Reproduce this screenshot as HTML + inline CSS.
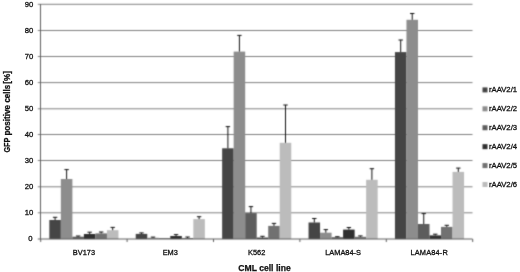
<!DOCTYPE html>
<html><head><meta charset="utf-8"><style>
html,body{margin:0;padding:0;background:#fff;}
body{width:520px;height:272px;overflow:hidden;}
svg{display:block;filter:grayscale(1);}
.t{font-family:"Liberation Sans",sans-serif;font-size:7.4px;fill:#111;stroke:#111;stroke-width:0.3px;}
.b{font-family:"Liberation Sans",sans-serif;font-size:8.6px;font-weight:bold;fill:#111;stroke:#111;stroke-width:0.25px;}
</style></head><body>
<svg width="520" height="272" viewBox="0 0 520 272">
<defs><filter id="bl" x="0" y="0" width="520" height="272" filterUnits="userSpaceOnUse" color-interpolation-filters="sRGB"><feConvolveMatrix order="3" kernelMatrix="0.02768 0.11101 0.02768 0.11101 0.44521 0.11101 0.02768 0.11101 0.02768" edgeMode="duplicate" preserveAlpha="true"/></filter></defs>
<g filter="url(#bl)">
<rect width="520" height="272" fill="#fff"/>
<line x1="37.8" y1="4.3" x2="472.5" y2="4.3" stroke="#808080" stroke-width="1"/>
<line x1="37.8" y1="30.5" x2="472.5" y2="30.5" stroke="#808080" stroke-width="1"/>
<line x1="37.8" y1="56.5" x2="472.5" y2="56.5" stroke="#808080" stroke-width="1"/>
<line x1="37.8" y1="82.6" x2="472.5" y2="82.6" stroke="#808080" stroke-width="1"/>
<line x1="37.8" y1="108.8" x2="472.5" y2="108.8" stroke="#808080" stroke-width="1"/>
<line x1="37.8" y1="134.5" x2="472.5" y2="134.5" stroke="#808080" stroke-width="1"/>
<line x1="37.8" y1="160.5" x2="472.5" y2="160.5" stroke="#808080" stroke-width="1"/>
<line x1="37.8" y1="186.8" x2="472.5" y2="186.8" stroke="#808080" stroke-width="1"/>
<line x1="37.8" y1="212.8" x2="472.5" y2="212.8" stroke="#808080" stroke-width="1"/>
<rect x="49.34" y="220.00" width="11.52" height="19.00" fill="#454545"/>
<rect x="60.86" y="179.00" width="11.52" height="60.00" fill="#8d8d8d"/>
<rect x="72.38" y="236.70" width="11.52" height="2.30" fill="#5d5d5d"/>
<rect x="83.90" y="234.00" width="11.52" height="5.00" fill="#2f2f2f"/>
<rect x="95.42" y="233.40" width="11.52" height="5.60" fill="#717171"/>
<rect x="106.94" y="230.20" width="11.52" height="8.80" fill="#bcbcbc"/>
<rect x="135.74" y="233.90" width="11.52" height="5.10" fill="#454545"/>
<rect x="147.26" y="237.80" width="11.52" height="1.20" fill="#8d8d8d"/>
<rect x="158.78" y="238.20" width="11.52" height="0.80" fill="#5d5d5d"/>
<rect x="170.30" y="236.00" width="11.52" height="3.00" fill="#2f2f2f"/>
<rect x="181.82" y="238.00" width="11.52" height="1.00" fill="#717171"/>
<rect x="193.34" y="219.10" width="11.52" height="19.90" fill="#bcbcbc"/>
<rect x="222.14" y="148.30" width="11.52" height="90.70" fill="#454545"/>
<rect x="233.66" y="51.60" width="11.52" height="187.40" fill="#8d8d8d"/>
<rect x="245.18" y="213.10" width="11.52" height="25.90" fill="#5d5d5d"/>
<rect x="256.70" y="237.60" width="11.52" height="1.40" fill="#2f2f2f"/>
<rect x="268.22" y="225.90" width="11.52" height="13.10" fill="#717171"/>
<rect x="279.74" y="142.80" width="11.52" height="96.20" fill="#bcbcbc"/>
<rect x="308.54" y="222.50" width="11.52" height="16.50" fill="#454545"/>
<rect x="320.06" y="232.70" width="11.52" height="6.30" fill="#8d8d8d"/>
<rect x="331.58" y="237.20" width="11.52" height="1.80" fill="#5d5d5d"/>
<rect x="343.10" y="229.60" width="11.52" height="9.40" fill="#2f2f2f"/>
<rect x="354.62" y="236.80" width="11.52" height="2.20" fill="#717171"/>
<rect x="366.14" y="179.80" width="11.52" height="59.20" fill="#bcbcbc"/>
<rect x="394.94" y="52.10" width="11.52" height="186.90" fill="#454545"/>
<rect x="406.46" y="19.80" width="11.52" height="219.20" fill="#8d8d8d"/>
<rect x="417.98" y="224.00" width="11.52" height="15.00" fill="#5d5d5d"/>
<rect x="429.50" y="235.40" width="11.52" height="3.60" fill="#2f2f2f"/>
<rect x="441.02" y="226.90" width="11.52" height="12.10" fill="#717171"/>
<rect x="452.54" y="171.90" width="11.52" height="67.10" fill="#bcbcbc"/>
<line x1="55.10" y1="220.00" x2="55.10" y2="217.30" stroke="#111" stroke-width="1"/>
<line x1="52.90" y1="217.30" x2="57.30" y2="217.30" stroke="#111" stroke-width="1"/>
<line x1="66.62" y1="179.00" x2="66.62" y2="169.60" stroke="#111" stroke-width="1"/>
<line x1="64.42" y1="169.60" x2="68.82" y2="169.60" stroke="#111" stroke-width="1"/>
<line x1="78.14" y1="236.70" x2="78.14" y2="236.00" stroke="#111" stroke-width="1"/>
<line x1="75.94" y1="236.00" x2="80.34" y2="236.00" stroke="#111" stroke-width="1"/>
<line x1="89.66" y1="234.00" x2="89.66" y2="232.20" stroke="#111" stroke-width="1"/>
<line x1="87.46" y1="232.20" x2="91.86" y2="232.20" stroke="#111" stroke-width="1"/>
<line x1="101.18" y1="233.40" x2="101.18" y2="232.00" stroke="#111" stroke-width="1"/>
<line x1="98.98" y1="232.00" x2="103.38" y2="232.00" stroke="#111" stroke-width="1"/>
<line x1="112.70" y1="230.20" x2="112.70" y2="227.40" stroke="#111" stroke-width="1"/>
<line x1="110.50" y1="227.40" x2="114.90" y2="227.40" stroke="#111" stroke-width="1"/>
<line x1="141.50" y1="233.90" x2="141.50" y2="232.90" stroke="#111" stroke-width="1"/>
<line x1="139.30" y1="232.90" x2="143.70" y2="232.90" stroke="#111" stroke-width="1"/>
<line x1="153.02" y1="237.80" x2="153.02" y2="237.10" stroke="#111" stroke-width="1"/>
<line x1="150.82" y1="237.10" x2="155.22" y2="237.10" stroke="#111" stroke-width="1"/>
<line x1="176.06" y1="236.00" x2="176.06" y2="234.60" stroke="#111" stroke-width="1"/>
<line x1="173.86" y1="234.60" x2="178.26" y2="234.60" stroke="#111" stroke-width="1"/>
<line x1="187.58" y1="238.00" x2="187.58" y2="237.00" stroke="#111" stroke-width="1"/>
<line x1="185.38" y1="237.00" x2="189.78" y2="237.00" stroke="#111" stroke-width="1"/>
<line x1="199.10" y1="219.10" x2="199.10" y2="216.70" stroke="#111" stroke-width="1"/>
<line x1="196.90" y1="216.70" x2="201.30" y2="216.70" stroke="#111" stroke-width="1"/>
<line x1="227.90" y1="148.30" x2="227.90" y2="126.60" stroke="#111" stroke-width="1"/>
<line x1="225.70" y1="126.60" x2="230.10" y2="126.60" stroke="#111" stroke-width="1"/>
<line x1="239.42" y1="51.60" x2="239.42" y2="35.40" stroke="#111" stroke-width="1"/>
<line x1="237.22" y1="35.40" x2="241.62" y2="35.40" stroke="#111" stroke-width="1"/>
<line x1="250.94" y1="213.10" x2="250.94" y2="206.60" stroke="#111" stroke-width="1"/>
<line x1="248.74" y1="206.60" x2="253.14" y2="206.60" stroke="#111" stroke-width="1"/>
<line x1="262.46" y1="237.60" x2="262.46" y2="236.30" stroke="#111" stroke-width="1"/>
<line x1="260.26" y1="236.30" x2="264.66" y2="236.30" stroke="#111" stroke-width="1"/>
<line x1="273.98" y1="225.90" x2="273.98" y2="223.40" stroke="#111" stroke-width="1"/>
<line x1="271.78" y1="223.40" x2="276.18" y2="223.40" stroke="#111" stroke-width="1"/>
<line x1="285.50" y1="142.80" x2="285.50" y2="105.00" stroke="#111" stroke-width="1"/>
<line x1="283.30" y1="105.00" x2="287.70" y2="105.00" stroke="#111" stroke-width="1"/>
<line x1="314.30" y1="222.50" x2="314.30" y2="218.50" stroke="#111" stroke-width="1"/>
<line x1="312.10" y1="218.50" x2="316.50" y2="218.50" stroke="#111" stroke-width="1"/>
<line x1="325.82" y1="232.70" x2="325.82" y2="229.60" stroke="#111" stroke-width="1"/>
<line x1="323.62" y1="229.60" x2="328.02" y2="229.60" stroke="#111" stroke-width="1"/>
<line x1="337.34" y1="237.20" x2="337.34" y2="236.70" stroke="#111" stroke-width="1"/>
<line x1="335.14" y1="236.70" x2="339.54" y2="236.70" stroke="#111" stroke-width="1"/>
<line x1="348.86" y1="229.60" x2="348.86" y2="227.50" stroke="#111" stroke-width="1"/>
<line x1="346.66" y1="227.50" x2="351.06" y2="227.50" stroke="#111" stroke-width="1"/>
<line x1="360.38" y1="236.80" x2="360.38" y2="235.90" stroke="#111" stroke-width="1"/>
<line x1="358.18" y1="235.90" x2="362.58" y2="235.90" stroke="#111" stroke-width="1"/>
<line x1="371.90" y1="179.80" x2="371.90" y2="168.70" stroke="#111" stroke-width="1"/>
<line x1="369.70" y1="168.70" x2="374.10" y2="168.70" stroke="#111" stroke-width="1"/>
<line x1="400.70" y1="52.10" x2="400.70" y2="40.00" stroke="#111" stroke-width="1"/>
<line x1="398.50" y1="40.00" x2="402.90" y2="40.00" stroke="#111" stroke-width="1"/>
<line x1="412.22" y1="19.80" x2="412.22" y2="13.50" stroke="#111" stroke-width="1"/>
<line x1="410.02" y1="13.50" x2="414.42" y2="13.50" stroke="#111" stroke-width="1"/>
<line x1="423.74" y1="224.00" x2="423.74" y2="213.60" stroke="#111" stroke-width="1"/>
<line x1="421.54" y1="213.60" x2="425.94" y2="213.60" stroke="#111" stroke-width="1"/>
<line x1="435.26" y1="235.40" x2="435.26" y2="234.20" stroke="#111" stroke-width="1"/>
<line x1="433.06" y1="234.20" x2="437.46" y2="234.20" stroke="#111" stroke-width="1"/>
<line x1="446.78" y1="226.90" x2="446.78" y2="225.30" stroke="#111" stroke-width="1"/>
<line x1="444.58" y1="225.30" x2="448.98" y2="225.30" stroke="#111" stroke-width="1"/>
<line x1="458.30" y1="171.90" x2="458.30" y2="168.10" stroke="#111" stroke-width="1"/>
<line x1="456.10" y1="168.10" x2="460.50" y2="168.10" stroke="#111" stroke-width="1"/>
<line x1="40.5" y1="4" x2="40.5" y2="239.5" stroke="#5e5e5e" stroke-width="1"/>
<line x1="37.8" y1="239" x2="472.5" y2="239" stroke="#5e5e5e" stroke-width="1"/>
<line x1="40.70" y1="239" x2="40.70" y2="242" stroke="#5e5e5e" stroke-width="1"/>
<line x1="127.10" y1="239" x2="127.10" y2="242" stroke="#5e5e5e" stroke-width="1"/>
<line x1="213.50" y1="239" x2="213.50" y2="242" stroke="#5e5e5e" stroke-width="1"/>
<line x1="299.90" y1="239" x2="299.90" y2="242" stroke="#5e5e5e" stroke-width="1"/>
<line x1="386.30" y1="239" x2="386.30" y2="242" stroke="#5e5e5e" stroke-width="1"/>
<line x1="472.70" y1="239" x2="472.70" y2="242" stroke="#5e5e5e" stroke-width="1"/>
<rect x="482.5" y="87.40" width="5" height="5" fill="#454545"/>
<rect x="482.5" y="106.32" width="5" height="5" fill="#8d8d8d"/>
<rect x="482.5" y="125.24" width="5" height="5" fill="#5d5d5d"/>
<rect x="482.5" y="144.16" width="5" height="5" fill="#2f2f2f"/>
<rect x="482.5" y="163.08" width="5" height="5" fill="#717171"/>
<rect x="482.5" y="182.00" width="5" height="5" fill="#bcbcbc"/>
</g>
<text x="33.2" y="7.40" text-anchor="end" class="t" style="font-size:7.7px">90</text>
<text x="33.2" y="33.40" text-anchor="end" class="t" style="font-size:7.7px">80</text>
<text x="33.2" y="59.40" text-anchor="end" class="t" style="font-size:7.7px">70</text>
<text x="33.2" y="85.40" text-anchor="end" class="t" style="font-size:7.7px">60</text>
<text x="33.2" y="111.40" text-anchor="end" class="t" style="font-size:7.7px">50</text>
<text x="33.2" y="137.40" text-anchor="end" class="t" style="font-size:7.7px">40</text>
<text x="33.2" y="163.40" text-anchor="end" class="t" style="font-size:7.7px">30</text>
<text x="33.2" y="189.40" text-anchor="end" class="t" style="font-size:7.7px">20</text>
<text x="33.2" y="215.40" text-anchor="end" class="t" style="font-size:7.7px">10</text>
<text x="32.6" y="241.40" text-anchor="end" class="t" style="font-size:7.7px">0</text>
<text x="83.90" y="255" text-anchor="middle" class="t">BV173</text>
<text x="170.30" y="255" text-anchor="middle" class="t">EM3</text>
<text x="256.70" y="255" text-anchor="middle" class="t">K562</text>
<text x="343.10" y="255" text-anchor="middle" class="t">LAMA84-S</text>
<text x="429.10" y="255" text-anchor="middle" class="t" textLength="37.3" lengthAdjust="spacing">LAMA84-R</text>
<text x="264.5" y="270.5" text-anchor="middle" class="b">CML cell line</text>
<text transform="translate(9.9,152.6) rotate(-90)" textLength="15.0" lengthAdjust="spacingAndGlyphs" class="b" style="font-size:8.8px">GFP</text>
<text transform="translate(9.9,135.6) rotate(-90)" textLength="30.6" lengthAdjust="spacingAndGlyphs" class="b" style="font-size:8.8px">positive</text>
<text transform="translate(9.9,102.6) rotate(-90)" textLength="17.8" lengthAdjust="spacingAndGlyphs" class="b" style="font-size:8.8px">cells</text>
<text transform="translate(9.9,83.8) rotate(-90)" textLength="12.8" lengthAdjust="spacingAndGlyphs" class="b" style="font-size:8.8px">[%]</text>
<text x="489" y="92.40" class="t" style="font-size:7.7px">rAAV2/1</text>
<text x="489" y="111.32" class="t" style="font-size:7.7px">rAAV2/2</text>
<text x="489" y="130.24" class="t" style="font-size:7.7px">rAAV2/3</text>
<text x="489" y="149.16" class="t" style="font-size:7.7px">rAAV2/4</text>
<text x="489" y="168.08" class="t" style="font-size:7.7px">rAAV2/5</text>
<text x="489" y="187.00" class="t" style="font-size:7.7px">rAAV2/6</text>
</svg>
</body></html>
